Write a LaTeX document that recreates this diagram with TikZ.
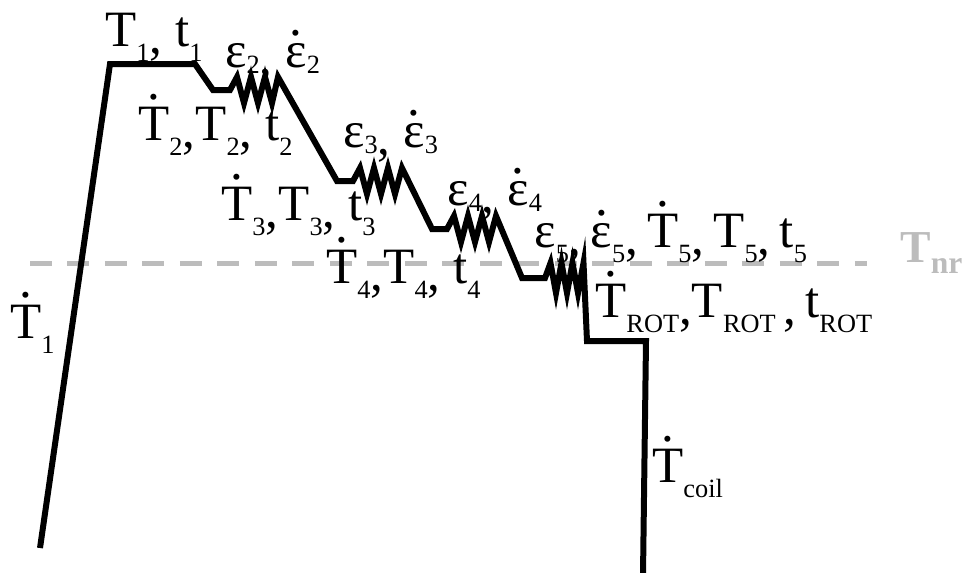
\documentclass[tikz,border=0pt]{standalone}
\usepackage{fontspec}
\setmainfont{Liberation Serif}
\usepackage{xcolor}
\definecolor{nrgray}{RGB}{188,188,188}
\newcommand\lo[2][0.3em]{\raisebox{-#1}{\fontsize{15}{15}\selectfont #2}}
\newcommand\cma{\raisebox{-0.15em}{,}}
\newcommand\dd[2][0.8em]{\ooalign{#2\cr\hidewidth\raisebox{#1}{.}\hidewidth\cr}}
\newcommand\de{\dd[0.62em]{ε}}
\tikzset{
  schedule/.style={line width=0.12cm,line join=miter},
  nrline/.style={nrgray,line width=0.1cm,dash pattern=on 0.44cm off 0.31cm},
  lbl/.style={anchor=base west,inner sep=0pt,font=\fontsize{29}{34}\selectfont},
}
\begin{document}
\begin{tikzpicture}[x=0.02cm,y=-0.02cm]
\useasboundingbox (0,0) rectangle (964,572);

\draw[nrline] (30,263) -- (867,263);

\draw[schedule] (40,548) -- (110,64) -- (195,64) -- (213,90) -- (230,90)
  -- ++(7,-13) -- ++(7,26) -- ++(7,-26) -- ++(7,26) -- ++(7,-26) -- ++(7,26) -- ++(6,-26)
  -- (337,181) -- (353,181)
  -- ++(7,-13) -- ++(7,26) -- ++(7,-26) -- ++(7,26) -- ++(7,-26) -- ++(7,26) -- ++(7,-26)
  -- (432,229) -- (447,229)
  -- ++(7,-13) -- ++(7,26) -- ++(7,-26) -- ++(7,26) -- ++(7,-26) -- ++(7,26) -- ++(7,-26)
  -- (522,278) -- (545,278)
  -- ++(5.5,-15) -- ++(5.5,30) -- ++(5.5,-30) -- ++(5.5,30) -- ++(5.5,-30) -- ++(5.5,30) -- ++(5.5,-30)
  -- (587,341) -- (646,341) -- (643,575);

\node[lbl] (hold1) at (105,46) {T\lo{1}\cma{} t\lo{1}};
\node[lbl] (strain2) at (225,67) {ε\lo[0.12em]{2}\cma{} \de\lo[0.12em]{2}};
\node[lbl] (rate2) at (138,140) {\dd{T}\lo{2}\cma T\lo{2}\cma{} t\lo{2}};
\node[lbl] (strain3) at (343,147) {ε\lo[0.12em]{3}\cma{} \de\lo[0.12em]{3}};
\node[lbl] (rate3) at (221,220) {\dd{T}\lo{3}\cma T\lo{3}\cma{} t\lo{3}};
\node[lbl] (strain4) at (447,205) {ε\lo[0.12em]{4}\cma{} \de\lo[0.12em]{4}};
\node[lbl] (rate4) at (326,283) {\dd{T}\lo{4}\cma T\lo{4}\cma{} t\lo{4}};
\node[lbl] (pass5) at (534,247) {ε\lo{5}\cma\hspace{0.18em}\de\lo{5}\cma\hspace{0.18em}\dd{T}\lo{5}\cma\hspace{0.18em}T\lo{5}\cma\hspace{0.18em}t\lo{5}};
\node[lbl] (rot) at (595,317) {\dd{T}\lo{ROT}\cma T\lo{ROT}\hspace{0.15em}\cma\hspace{0.18em}t\lo{ROT}};
\node[lbl] (coil) at (652,482) {\dd{T}\lo{coil}};
\node[lbl] (heat1) at (10,338) {\dd{T}\lo{1}};
\node[lbl,nrgray,font=\fontsize{26}{30}\selectfont\bfseries] (tnr) at (900,262) {T\lo[0.25em]{\fontsize{18}{18}\selectfont nr}};

\end{tikzpicture}
\end{document}
